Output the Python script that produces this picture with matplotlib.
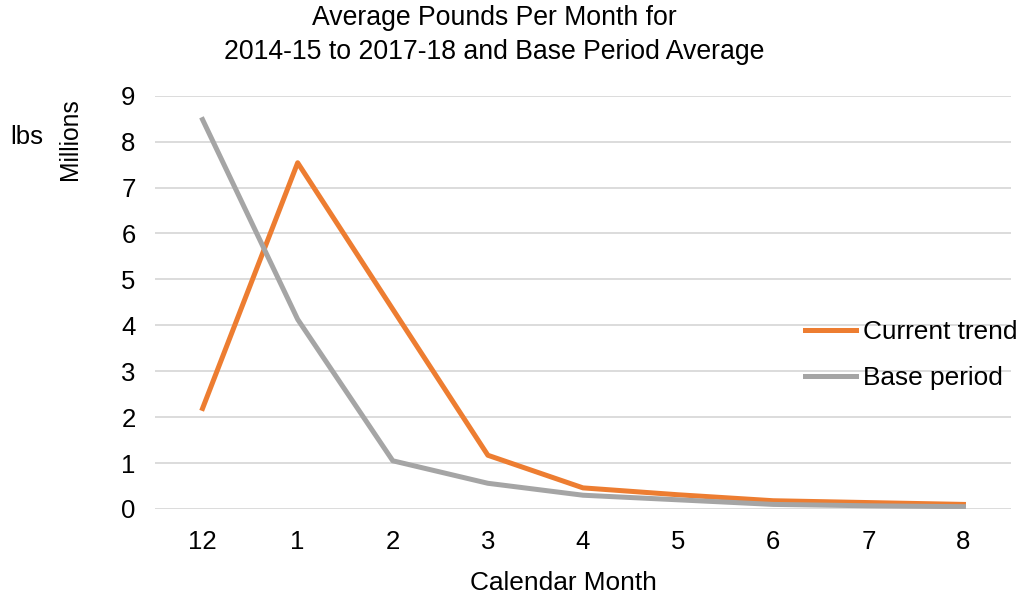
import matplotlib
matplotlib.use("Agg")
import matplotlib.pyplot as plt

plt.rcParams['font.family'] = ['Liberation Sans', 'DejaVu Sans']

months = ["12", "1", "2", "3", "4", "5", "6", "7", "8"]
current_trend = [2.19, 7.54, 4.35, 1.17, 0.46, 0.31, 0.18, 0.14, 0.10]
base_period = [8.48, 4.13, 1.05, 0.56, 0.30, 0.20, 0.10, 0.07, 0.05]
y_ticks = [0, 1, 2, 3, 4, 5, 6, 7, 8, 9]

W, H = 1021, 600
fig = plt.figure(figsize=(W / 100, H / 100), dpi=100)
ax = fig.add_axes([155 / W, 1 - 509 / H, (1011 - 155) / W, (509 - 95.7) / H])

x = list(range(len(months)))
ax.plot(x, current_trend, color='#ED7D31', lw=3.6, label='Current trend', solid_joinstyle='round')
ax.plot(x, base_period, color='#A5A5A5', lw=3.6, label='Base period', solid_joinstyle='round')

ax.set_xlim(-0.5, len(months) - 0.5)
ax.set_ylim(0, 9)
ax.set_yticks(y_ticks)
ax.set_yticklabels([str(v) for v in y_ticks])
ax.set_xticks(x)
ax.set_xticklabels(months)
ax.tick_params(axis='both', length=0, labelsize=18.5, colors='#000000')
ax.tick_params(axis='y', pad=14)
ax.tick_params(axis='x', pad=15)
ax.grid(axis='y', color='#D9D9D9', lw=1.3)
ax.set_axisbelow(True)
for s in ax.spines.values():
    s.set_visible(False)

fig.text(494 / W, 1 - 35 / H, "Average Pounds Per Month for\n2014-15 to 2017-18 and Base Period Average",
         ha='center', va='center', fontsize=19.2, linespacing=1.38)
fig.text(563 / W, 1 - 583 / H, "Calendar Month", ha='center', va='center', fontsize=18.9)
fig.text(70 / W, 1 - 139 / H, "Millions", ha='center', va='center', rotation=90, fontsize=17.7)
fig.text(27 / W, 1 - 137 / H, "lbs", ha='center', va='center', fontsize=18.5)

leg = ax.legend(loc='center left', bbox_to_anchor=(805 / W, 1 - 355 / H), bbox_transform=fig.transFigure,
                frameon=False, fontsize=18.9, handlelength=1.95, handletextpad=0.25, labelspacing=0.82,
                borderaxespad=0, borderpad=0)

fig.savefig("out.png", dpi=100)
